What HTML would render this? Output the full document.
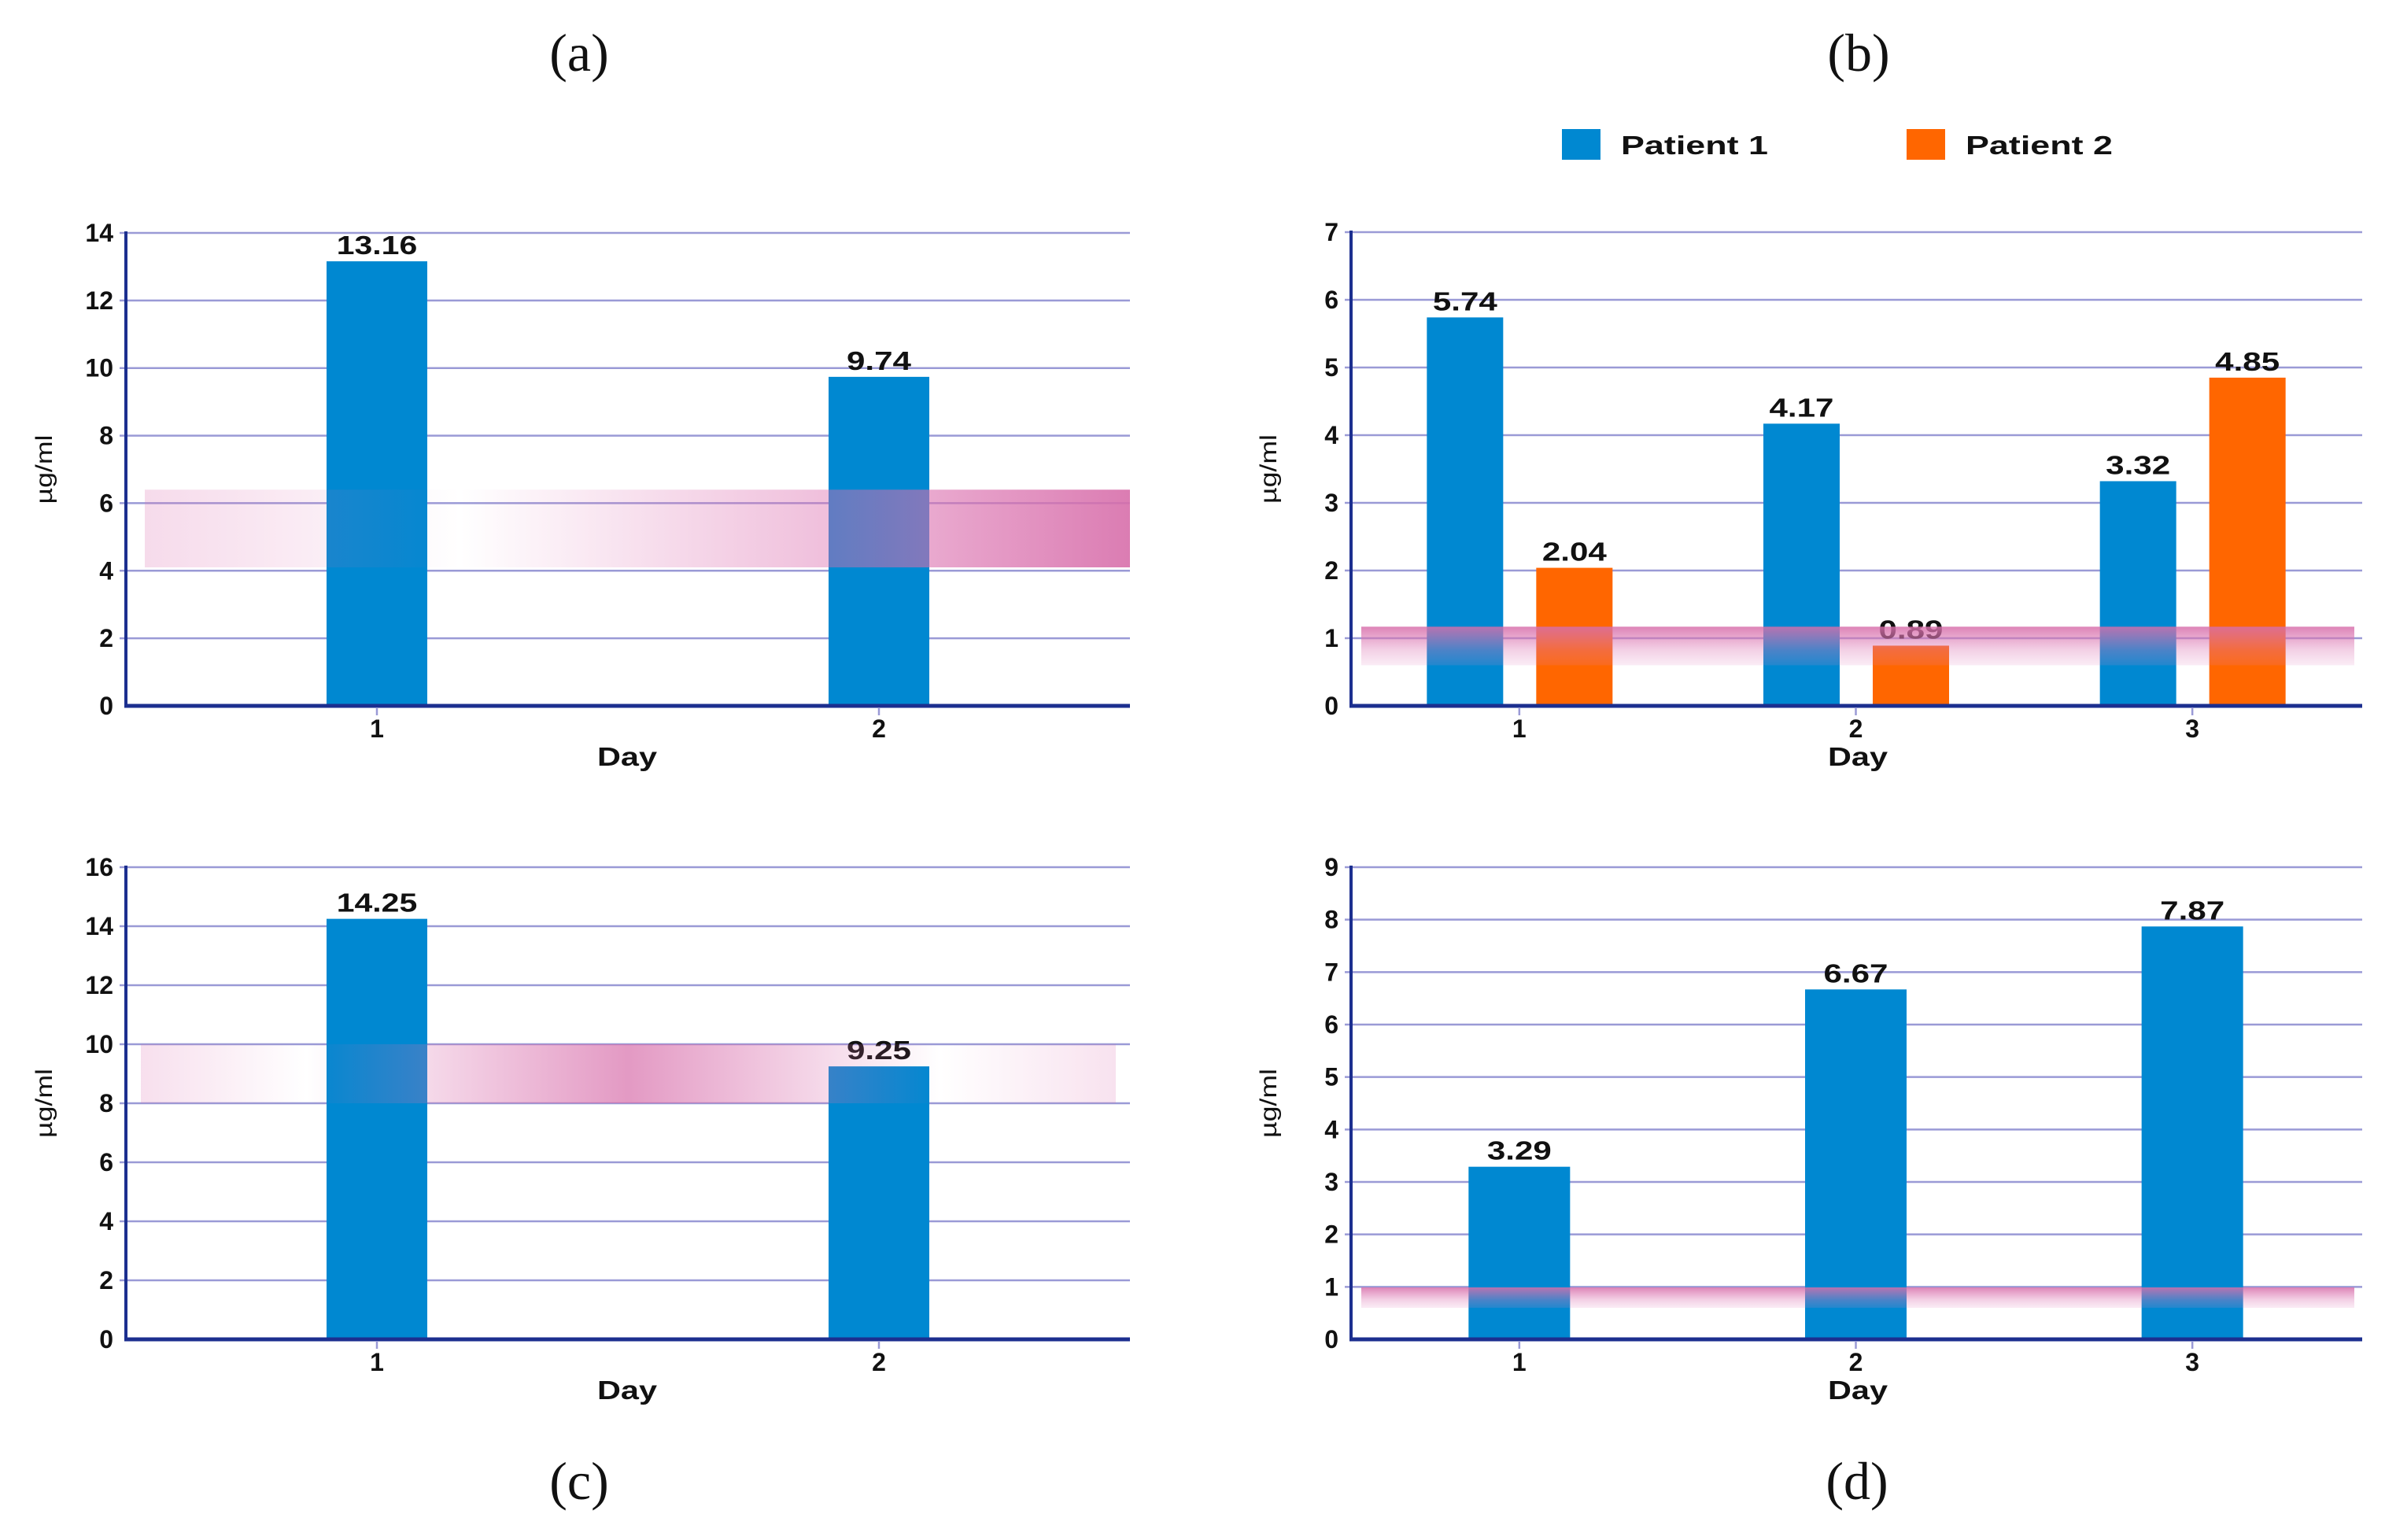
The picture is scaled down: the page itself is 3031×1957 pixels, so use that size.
<!DOCTYPE html>
<html><head><meta charset="utf-8"><style>
html,body{margin:0;padding:0;background:#fff;}
svg{display:block;}
text{font-family:"Liberation Sans",sans-serif;}
</style></head>
<body>
<svg id="fig" width="3031" height="1957" viewBox="0 0 3031 1957" xmlns="http://www.w3.org/2000/svg">
<defs>
<linearGradient id="bandA" x1="0" x2="1" y1="0" y2="0">
<stop offset="0" stop-color="rgb(220,110,175)" stop-opacity="0.25"/>
<stop offset="0.18" stop-color="rgb(220,110,175)" stop-opacity="0.12"/>
<stop offset="0.32" stop-color="rgb(220,110,175)" stop-opacity="0.0"/>
<stop offset="0.7" stop-color="rgb(220,110,175)" stop-opacity="0.45"/>
<stop offset="1" stop-color="rgb(215,110,170)" stop-opacity="0.9"/>
</linearGradient>
<linearGradient id="bandC" x1="0" x2="1" y1="0" y2="0">
<stop offset="0" stop-color="rgb(220,110,175)" stop-opacity="0.22"/>
<stop offset="0.17" stop-color="rgb(220,110,175)" stop-opacity="0.0"/>
<stop offset="0.5" stop-color="rgb(215,110,170)" stop-opacity="0.7"/>
<stop offset="0.82" stop-color="rgb(220,110,175)" stop-opacity="0.0"/>
<stop offset="1" stop-color="rgb(220,110,175)" stop-opacity="0.2"/>
</linearGradient>
<linearGradient id="bandV" x1="0" x2="0" y1="0" y2="1">
<stop offset="0" stop-color="rgb(215,110,170)" stop-opacity="0.85"/>
<stop offset="0.6" stop-color="rgb(220,120,180)" stop-opacity="0.35"/>
<stop offset="1" stop-color="rgb(225,130,190)" stop-opacity="0.15"/>
</linearGradient>
</defs>
<g id="layer"></g>
</svg>
<script>
// Panel (a)
const aCategories = ["1", "2"];
const aValues = [13.16, 9.74];
const aLabels = ["13.16", "9.74"];
const aTicks = [0, 2, 4, 6, 8, 10, 12, 14];
const aRange = [4.1, 6.4];
// Panel (b)
const bCategories = ["1", "2", "3"];
const bPatient1 = [5.74, 4.17, 3.32];
const bPatient2 = [2.04, 0.89, 4.85];
const bLabels1 = ["5.74", "4.17", "3.32"];
const bLabels2 = ["2.04", "0.89", "4.85"];
const bTicks = [0, 1, 2, 3, 4, 5, 6, 7];
const bRange = [0.6, 1.17];
// Panel (c)
const cCategories = ["1", "2"];
const cValues = [14.25, 9.25];
const cLabels = ["14.25", "9.25"];
const cTicks = [0, 2, 4, 6, 8, 10, 12, 14, 16];
const cRange = [8, 10];
// Panel (d)
const dCategories = ["1", "2", "3"];
const dValues = [3.29, 6.67, 7.87];
const dLabels = ["3.29", "6.67", "7.87"];
const dTicks = [0, 1, 2, 3, 4, 5, 6, 7, 8, 9];
const dRange = [0.6, 0.99];

const NS = "http://www.w3.org/2000/svg";
const layer = document.getElementById("layer");
function mk(tag, attrs, parent) {
  const e = document.createElementNS(NS, tag);
  for (const k in attrs) e.setAttribute(k, attrs[k]);
  (parent || layer).appendChild(e);
  return e;
}
function txt(s, attrs, parent) { const t = mk("text", attrs, parent); t.textContent = s; return t; }

function panel(opt) {
  const g = mk("g", {});
  
  
  const x0 = opt.x0, x1 = opt.x1, xEnd = opt.xEnd, yTop = opt.yTop, yZero = opt.yZero;
  const maxV = opt.ticks[opt.ticks.length - 1];
  const y = v => yZero - (v / maxV) * (yZero - yTop);
  const n = opt.categories.length;
  const step = (x1 - x0) / n;
  const xc = i => x0 + step * (i + 0.5);
  opt.ticks.forEach(t => {
    if (t > 0) {
      const gl = mk("line", {x1: x0 - 8, x2: xEnd, y1: y(t), y2: y(t), stroke: "#9a9ad6", "stroke-width": 2.5}, g);
      
      
    }
    const tl = txt(String(t), {x: x0 - 16, y: y(t) + 11, "text-anchor": "end", "font-size": 32, "font-weight": "bold", fill: "#111"}, g);
    
    
  });
  opt.series.forEach(s => {
    s.values.forEach((v, i) => {
      const cx = xc(i) + s.offset;
      const r = mk("rect", {x: cx - s.width / 2, y: y(v), width: s.width, height: yZero - y(v), fill: s.color}, g);
      
      
      const lab = s.labels[i];
      const lt = txt(lab, {x: cx, y: y(v) - 9, "text-anchor": "middle", "font-size": 33, "font-weight": "bold", fill: "#111", textLength: lab.length * 20.5, lengthAdjust: "spacingAndGlyphs"}, g);
      
      
    });
  });
  const band = mk("rect", {x: opt.bandX0, y: y(opt.range[1]), width: opt.bandX1 - opt.bandX0, height: y(opt.range[0]) - y(opt.range[1]), fill: opt.bandFill}, g);
  
  
  const ya = mk("line", {x1: x0, x2: x0, y1: yTop - 2, y2: yZero, stroke: "#1c2f8f", "stroke-width": 4}, g);
  
  
  const xa = mk("line", {x1: x0 - 2, x2: xEnd, y1: yZero, y2: yZero, stroke: "#1c2f8f", "stroke-width": 5}, g);
  
  
  opt.categories.forEach((c, i) => {
    const tk = mk("line", {x1: xc(i), x2: xc(i), y1: yZero + 2, y2: yZero + 12, stroke: "#9a9ad6", "stroke-width": 2.5}, g);
    
    
    const xl = txt(c, {x: xc(i), y: yZero + 40, "text-anchor": "middle", "font-size": 32, "font-weight": "bold", fill: "#111"}, g);
    
    
  });
  const dx = txt("Day", {x: opt.dayX, y: yZero + 76, "text-anchor": "middle", "font-size": 33, "font-weight": "bold", fill: "#111", textLength: 76, lengthAdjust: "spacingAndGlyphs"}, g);
  
  
  const ym = (yTop + yZero) / 2;
  const yt = txt("µg/ml", {x: 0, y: 0, transform: "translate(" + (opt.ytX) + "," + ym + ") rotate(-90)", "text-anchor": "middle", "font-size": 30, fill: "#111", textLength: 88, lengthAdjust: "spacingAndGlyphs"}, g);
  
  
  const tt = txt(opt.title, {x: opt.titleX, y: opt.titleY, "text-anchor": "middle", "font-size": 68, fill: "#111"}, g);
  tt.style.fontFamily = '"Liberation Serif", serif';
  
  
}

const BLUE = "#0088d1", ORANGE = "#ff6600";
panel({name: "chart-a", title: "(a)", titleX: 736, titleY: 90, x0: 160, x1: 1436, xEnd: 1436, yTop: 296, yZero: 897,
  categories: aCategories, ticks: aTicks, range: aRange, bandX0: 184, bandX1: 1436, bandFill: "url(#bandA)",
  series: [{key: "patient-1", values: aValues, labels: aLabels, color: BLUE, width: 128, offset: 0}],
  dayX: 797, ytX: 66});
panel({name: "chart-b", title: "(b)", titleX: 2362, titleY: 90, x0: 1717, x1: 3000, xEnd: 3002, yTop: 295, yZero: 897,
  categories: bCategories, ticks: bTicks, range: bRange, bandX0: 1730, bandX1: 2992, bandFill: "url(#bandV)",
  series: [{key: "patient-1", values: bPatient1, labels: bLabels1, color: BLUE, width: 97, offset: -69},
           {key: "patient-2", values: bPatient2, labels: bLabels2, color: ORANGE, width: 97, offset: 70}],
  dayX: 2361, ytX: 1622});
panel({name: "chart-c", title: "(c)", titleX: 736, titleY: 1905, x0: 160, x1: 1436, xEnd: 1436, yTop: 1102, yZero: 1702,
  categories: cCategories, ticks: cTicks, range: cRange, bandX0: 179, bandX1: 1418, bandFill: "url(#bandC)",
  series: [{key: "patient-1", values: cValues, labels: cLabels, color: BLUE, width: 128, offset: 0}],
  dayX: 797, ytX: 66});
panel({name: "chart-d", title: "(d)", titleX: 2360, titleY: 1905, x0: 1717, x1: 3000, xEnd: 3002, yTop: 1102, yZero: 1702,
  categories: dCategories, ticks: dTicks, range: dRange, bandX0: 1730, bandX1: 2992, bandFill: "url(#bandV)",
  series: [{key: "patient-1", values: dValues, labels: dLabels, color: BLUE, width: 129, offset: 0}],
  dayX: 2361, ytX: 1622});

const leg = mk("g", {});


const legendNames = ["Patient 1", "Patient 2"];
const legendColors = [BLUE, ORANGE];
const legendX = [1985, 2423];
legendNames.forEach((nm, i) => {
  const sw = mk("rect", {x: legendX[i], y: 164, width: 49, height: 39, fill: legendColors[i]}, leg);
  
  
  const lt = txt(nm, {x: legendX[i] + 75, y: 196, "font-size": 33, "font-weight": "bold", fill: "#111", textLength: 187, lengthAdjust: "spacingAndGlyphs"}, leg);
  
  
});
</script>
</body></html>
